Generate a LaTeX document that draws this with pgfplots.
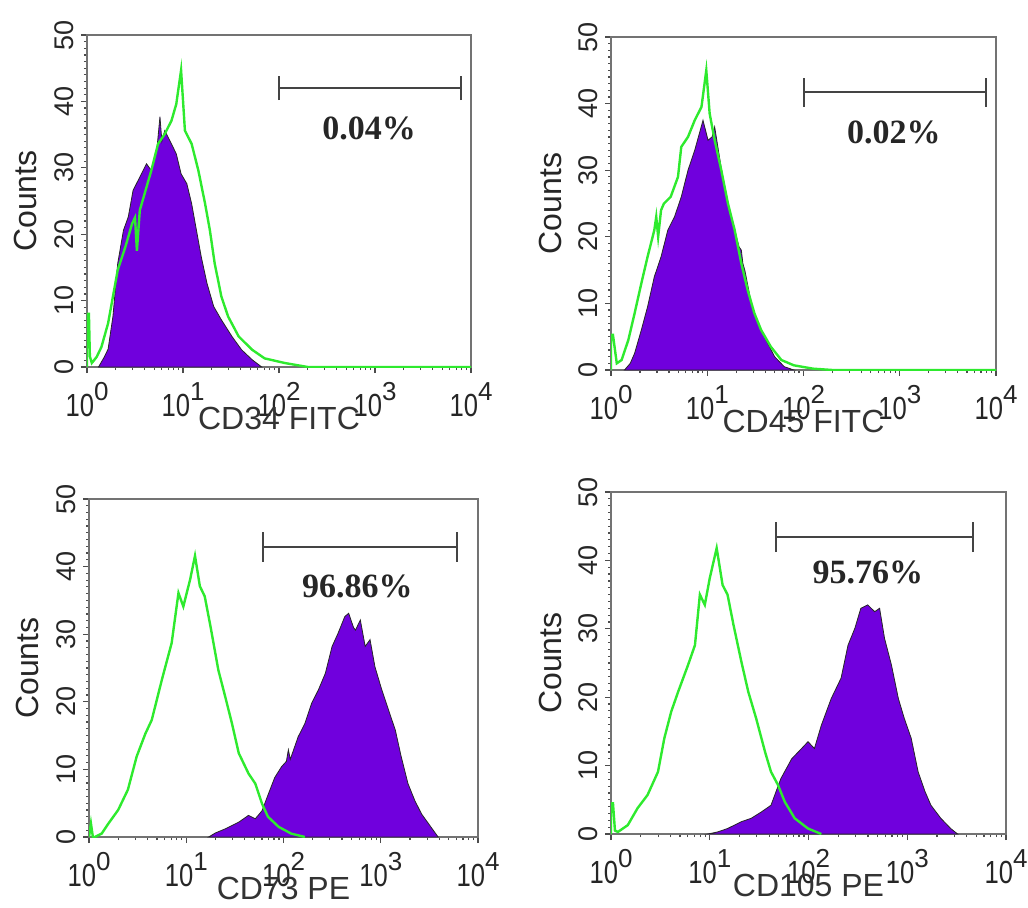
\documentclass[border=0pt]{standalone}
\usepackage{fontspec}
\setmainfont{Liberation Sans}
\newfontfamily\tickfont[FakeStretch=0.8]{Liberation Sans}
\newfontfamily\pctfont{Liberation Serif}
\usepackage{pgfplots}
\pgfplotsset{compat=1.18}
\definecolor{cpurple}{HTML}{7000DD}
\definecolor{cgreen}{HTML}{2EEA2E}
\definecolor{gatecol}{HTML}{444444}

\newcommand{\dec}[1]{{\tickfont\fontsize{16}{18}\selectfont 10}\raisebox{8pt}{\fontsize{13}{13}\selectfont #1}}
\tikzset{pct/.style={font=\pctfont\bfseries\fontsize{17}{19}\selectfont, text=black!85}}

\pgfplotsset{
  flow/.style={
    scale only axis,
    anchor=south west,
    xmin=0, xmax=4, ymin=0, ymax=50,
    xtick={0,1,2,3,4},
    xticklabels={\dec{0},\dec{1},\dec{2},\dec{3},\dec{4}},
    minor xtick={0.301,0.477,0.602,0.699,0.778,0.845,0.903,0.954,
                 1.301,1.477,1.602,1.699,1.778,1.845,1.903,1.954,
                 2.301,2.477,2.602,2.699,2.778,2.845,2.903,2.954,
                 3.301,3.477,3.602,3.699,3.778,3.845,3.903,3.954},
    ytick={0,10,20,30,40,50},
    minor y tick num=9,
    tick align=outside,
    xtick pos=bottom, ytick pos=left,
    major tick length=3pt, minor tick length=1.5pt,
    axis line style={black!55, line width=0.8pt},
    tick style={black!70, line width=0.6pt},
    /pgf/number format/assume math mode=true,
    xticklabel style={anchor=base, yshift=-21.5pt, text=black!85},
    yticklabel style={font=\fontsize{13.5}{15}\selectfont, rotate=90, anchor=south, text=black!85},
    ylabel={Counts},
    ylabel style={font=\fontsize{16}{18}\selectfont, text=black!85,
      at={([xshift=-25pt]axis description cs:0,0.5)}, anchor=base, rotate=0},
    xlabel style={font=\fontsize{16}{18}\selectfont, text=black!80,
      at={([yshift=-31pt]axis description cs:0.5,0)}, anchor=base},
  },
  purp/.style={fill=cpurple, draw=black!85, line width=0.4pt},
  grn/.style={cgreen, line width=1.2pt},
  gate/.style={gatecol, line width=1pt},
}

\begin{document}
\begin{tikzpicture}
\useasboundingbox (0,0) rectangle (514pt,453.5pt);

% CD34
\begin{axis}[flow, at={(43.5pt,270pt)}, width=192pt, height=166pt, xlabel={CD34 FITC}]
\addplot[purp] coordinates {
(0.12,0)(0.18,1.5)(0.22,2.7)(0.27,7.6)(0.32,15.6)(0.38,20.6)(0.43,22.6)(0.48,26.6)
(0.55,28.6)(0.62,30.6)(0.67,29.6)(0.73,33.1)(0.76,37.7)(0.78,34)(0.81,35.6)(0.88,33.6)
(0.93,32.1)(0.98,29.1)(1.04,27.6)(1.09,24.6)(1.14,20.6)(1.19,16.6)(1.25,12.6)(1.32,9.1)
(1.40,7.1)(1.51,4.6)(1.61,2.6)(1.72,1.1)(1.82,0)} \closedcycle;
\addplot[grn] coordinates {
(0,0)(0,8)(0.02,8)(0.03,1.6)(0.05,0.6)(0.1,1.5)(0.15,3)(0.22,6.6)(0.32,14.6)(0.40,18.1)
(0.47,21.6)(0.50,22.5)(0.52,17.5)(0.55,23.6)(0.60,26.1)(0.67,29.6)(0.74,33.6)(0.81,35.1)
(0.88,37.1)(0.93,39.6)(0.98,44.7)(1.02,35.6)(1.09,33.6)(1.16,29.6)(1.23,24.6)(1.28,20.6)
(1.33,15.6)(1.40,10.6)(1.47,7.6)(1.58,4.6)(1.72,2.6)(1.85,1.3)(2.06,0.6)(2.3,0)(4,0)};
\addplot[gate] coordinates {(2,40.2)(2,43.8)};
\addplot[gate] coordinates {(2,42)(3.9,42)};
\addplot[gate] coordinates {(3.9,40.2)(3.9,43.8)};
\node[pct] at (axis cs:2.94,36) {0.04\%};
\end{axis}

% CD45
\begin{axis}[flow, at={(305.5pt,268.5pt)}, width=192.5pt, height=166.5pt, xlabel={CD45 FITC}]
\addplot[purp] coordinates {
(0.14,0)(0.2,1)(0.245,2.5)(0.315,6.0)(0.38,9.5)(0.45,14.0)(0.52,17.0)(0.59,21.0)
(0.66,23.0)(0.73,26.0)(0.80,30.0)(0.87,33.0)(0.956,37.5)(1.008,34.5)(1.05,35)(1.077,36.5)
(1.11,33.5)(1.16,29.0)(1.215,25.0)(1.285,21.0)(1.33,18.5)(1.354,18.0)(1.37,16)(1.39,15.0)
(1.458,10.0)(1.527,7.0)(1.61,4.5)(1.70,2.0)(1.80,0.5)(1.9,0)} \closedcycle;
\addplot[grn] coordinates {
(0,0)(0,5.3)(0.02,5.3)(0.06,1.0)(0.11,1.5)(0.18,4.5)(0.245,8.5)(0.315,13.0)(0.38,17.0)
(0.45,21.0)(0.47,23)(0.49,20)(0.52,24)(0.55,25.0)(0.62,26.0)(0.696,29.0)(0.73,33.5)
(0.80,35.0)(0.87,37.5)(0.94,39.5)(0.99,45.0)(1.025,38.5)(1.077,34.5)(1.146,30.0)
(1.215,25.0)(1.285,21.0)(1.354,16.0)(1.42,12.0)(1.49,8.5)(1.56,6.0)(1.66,3.5)(1.77,1.5)
(1.9,0.7)(2.1,0.2)(2.3,0)(4,0)};
\addplot[gate] coordinates {(2,39.5)(2,43.9)};
\addplot[gate] coordinates {(2,41.7)(3.9,41.7)};
\addplot[gate] coordinates {(3.9,39.5)(3.9,43.9)};
\node[pct] at (axis cs:2.94,35.6) {0.02\%};
\end{axis}

% CD73
\begin{axis}[flow, at={(44.5pt,35pt)}, width=194.5pt, height=169pt, xlabel={CD73 PE}]
\addplot[purp] coordinates {
(1.23,0)(1.30,0.6)(1.40,1.2)(1.54,2.2)(1.64,3.2)(1.71,2.7)(1.78,3.9)(1.84,6.2)(1.91,8.8)
(1.98,10.4)(2.03,11.2)(2.05,12.9)(2.07,11.5)(2.15,14.8)(2.22,16.8)(2.29,19.8)(2.36,21.8)
(2.43,24.2)(2.50,28.2)(2.56,30.1)(2.63,32.6)(2.67,33.1)(2.72,31)(2.74,30.6)(2.79,32.1)
(2.84,28.2)(2.89,29.2)(2.94,25.2)(3.01,21.8)(3.08,18.8)(3.15,15.8)(3.21,11.9)(3.28,7.9)
(3.35,5.4)(3.42,3.4)(3.52,1.4)(3.59,0)} \closedcycle;
\addplot[grn] coordinates {
(0,0)(0.02,2)(0.04,0)(0.06,0)(0.13,0.5)(0.2,2.0)(0.30,4.0)(0.40,7.0)(0.49,11.9)(0.58,15.3)
(0.645,17.3)(0.75,23.3)(0.85,28.7)(0.92,36.1)(0.97,34.1)(1.04,38.1)(1.09,41.6)(1.14,37.1)
(1.19,35.6)(1.25,31.1)(1.33,24.7)(1.40,20.8)(1.47,16.8)(1.54,12.4)(1.64,9.4)(1.71,7.9)
(1.78,4.9)(1.84,3.0)(1.95,1.5)(2.08,0.5)(2.22,0)};
\addplot[gate] coordinates {(1.79,40.7)(1.79,45.1)};
\addplot[gate] coordinates {(1.79,42.9)(3.78,42.9)};
\addplot[gate] coordinates {(3.78,40.7)(3.78,45.1)};
\node[pct] at (axis cs:2.76,37.1) {96.86\%};
\end{axis}

% CD105
\begin{axis}[flow, at={(305.5pt,36.5pt)}, width=197.5pt, height=171pt, xlabel={CD105 PE}]
\addplot[purp] coordinates {
(0.98,0)(1.08,0.3)(1.18,0.8)(1.32,1.8)(1.42,2.3)(1.52,3.2)(1.62,4.2)(1.72,8.1)(1.83,11.0)
(1.93,12.5)(1.995,13.5)(2.06,12.5)(2.13,15.9)(2.23,19.8)(2.33,22.8)(2.40,27.6)(2.47,30.1)
(2.53,33.0)(2.60,33.5)(2.67,32.5)(2.72,33.0)(2.77,28.6)(2.84,24.7)(2.91,19.8)(2.97,16.9)
(3.04,14.0)(3.11,9.1)(3.18,6.2)(3.24,4.2)(3.34,2.3)(3.44,0.8)(3.51,0)} \closedcycle;
\addplot[grn] coordinates {
(0,0)(0,4.5)(0.02,4.5)(0.04,0.5)(0.07,0.3)(0.17,1.3)(0.27,3.8)(0.37,5.7)(0.476,9.1)
(0.54,14.0)(0.61,17.9)(0.68,20.8)(0.78,24.7)(0.85,27.6)(0.90,35.0)(0.95,33.5)(1.0,37.4)
(1.07,41.8)(1.13,36.4)(1.18,35.0)(1.24,30.6)(1.32,25.2)(1.39,20.8)(1.47,16.9)(1.56,12.0)
(1.62,9.1)(1.69,7.2)(1.76,4.7)(1.86,2.3)(1.995,0.8)(2.13,0)};
\addplot[gate] coordinates {(1.67,41.2)(1.67,45.6)};
\addplot[gate] coordinates {(1.67,43.4)(3.67,43.4)};
\addplot[gate] coordinates {(3.67,41.2)(3.67,45.6)};
\node[pct] at (axis cs:2.60,38.3) {95.76\%};
\end{axis}
\end{tikzpicture}
\end{document}
